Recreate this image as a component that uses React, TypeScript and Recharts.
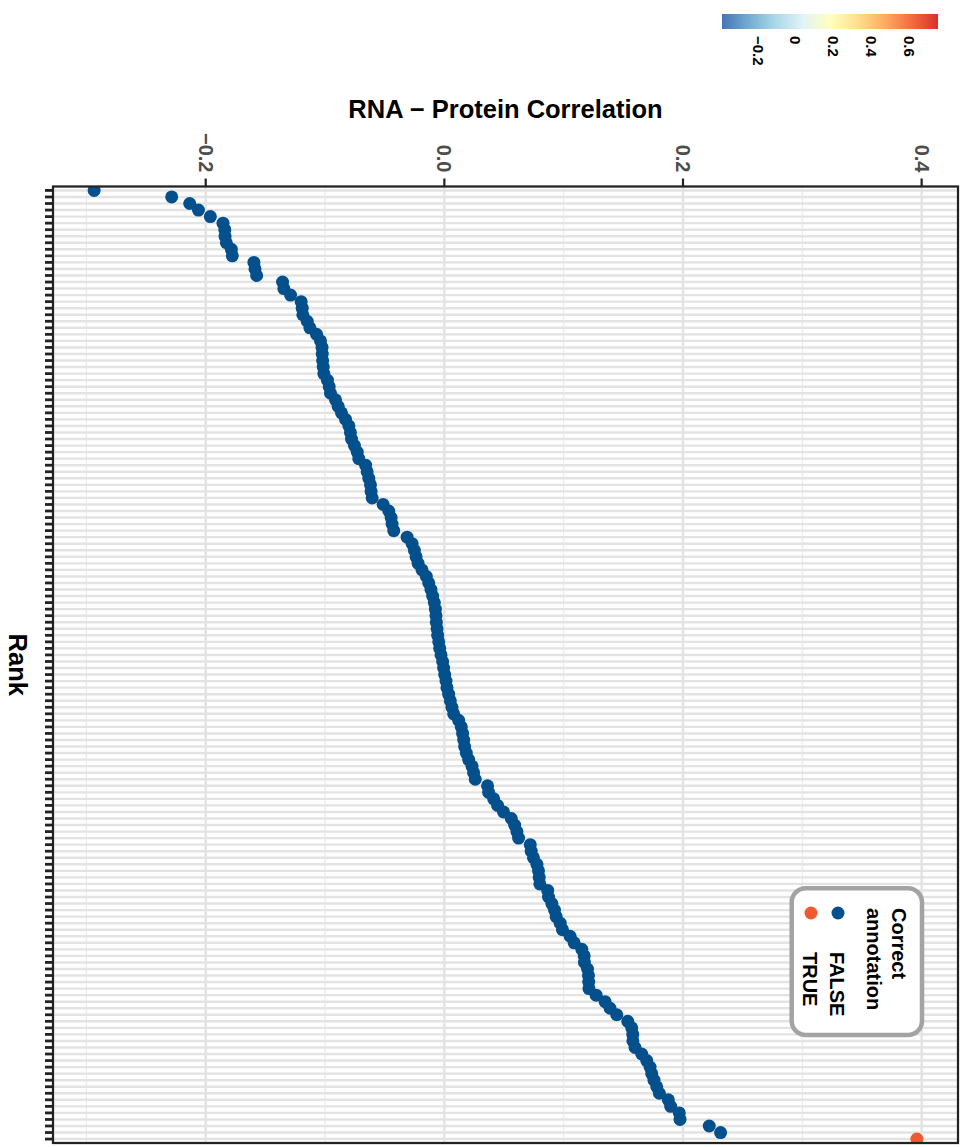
import { ScatterChart, Scatter, XAxis, YAxis, CartesianGrid } from "recharts";

// RNA–protein correlation per feature, sorted by rank (1 = lowest)
const rnaProteinCorr = [
  -0.2935, -0.2285, -0.2134, -0.2061, -0.1961, -0.1855, -0.184, -0.1838, -0.1827, -0.1785,
  -0.1777, -0.1596, -0.1587, -0.1573, -0.1356, -0.1345, -0.1289, -0.12, -0.1191, -0.1186,
  -0.1149, -0.1127, -0.1071, -0.1038, -0.1025, -0.1023, -0.102, -0.1015, -0.101, -0.098,
  -0.0965, -0.0954, -0.0912, -0.089, -0.0862, -0.0828, -0.08, -0.0787, -0.0778, -0.0753,
  -0.073, -0.0717, -0.066, -0.0647, -0.0633, -0.0619, -0.0614, -0.0605, -0.0513, -0.0466,
  -0.0446, -0.0438, -0.0424, -0.0312, -0.027, -0.0251, -0.0237, -0.022, -0.0187, -0.0151,
  -0.0131, -0.0112, -0.0098, -0.0084, -0.0075, -0.007, -0.0067, -0.0061, -0.0056, -0.0047,
  -0.0039, -0.0028, -0.0014, -0.0006, 0.0003, 0.0014, 0.0022, 0.0036, 0.005, 0.0064,
  0.0078, 0.012, 0.0142, 0.0153, 0.0162, 0.017, 0.0184, 0.0204, 0.0232, 0.0245,
  0.0259, 0.0362, 0.0371, 0.0413, 0.0446, 0.0496, 0.0561, 0.0589, 0.0608, 0.0622,
  0.072, 0.0728, 0.0747, 0.0776, 0.0789, 0.0795, 0.08, 0.0866, 0.0873, 0.0901,
  0.0923, 0.0937, 0.0971, 0.099, 0.1054, 0.1088, 0.1152, 0.1172, 0.1174, 0.12,
  0.1208, 0.121, 0.1212, 0.1272, 0.1347, 0.1389, 0.1445, 0.1537, 0.157, 0.1579,
  0.158, 0.1598, 0.1654, 0.1696, 0.1724, 0.1738, 0.1757, 0.178, 0.1802, 0.1877,
  0.1897, 0.1969, 0.1975, 0.222, 0.2315, 0.396,
];
// ranks whose annotation is correct
const correctRanks = [146];

const xMajorTicks = [-0.2, 0, 0.2, 0.4];
const xMinorTicks = [-0.3, -0.1, 0.1, 0.3];

const colorbarTicks = [-0.2, 0, 0.2, 0.4, 0.6];
const colorbarLimits = [-0.39, 0.75];
const colorbarPalette = [
  "#4575B4", "#74ADD1", "#ABD9E9", "#E0F3F8", "#FFFFBF",
  "#FEE090", "#FDAE61", "#F46D43", "#D73027",
];

const legendLevels = ["FALSE", "TRUE"];
const legendColors: Record<string, string> = { FALSE: "#03508C", TRUE: "#EE5A32" };

const FONT = "'Liberation Sans', Arial, Helvetica, sans-serif";
const W = 961;
const H = 1147;
const PLOT = { left: 53, top: 186.5, right: 958, bottom: 1143 };
const DOT_R = 6.5;
const AXIS_INK = "#222222";

const points = rnaProteinCorr.map((corr, i) => ({
  rank: i + 1,
  corr,
  correct: correctRanks.includes(i + 1),
}));
const falsePoints = points.filter((p) => !p.correct);
const truePoints = points.filter((p) => p.correct);
const ranks = points.map((p) => p.rank);

// ggplot-style 5% expansion on the continuous axis, 0.6 on the discrete one
const lo = Math.min(...rnaProteinCorr);
const hi = Math.max(...rnaProteinCorr);
const pad = (hi - lo) * 0.05;
const xDomain: [number, number] = [lo - pad, hi + pad];
const yDomain: [number, number] = [0.4, rnaProteinCorr.length + 0.6];

const fmtAxis = (v: number) => (v < 0 ? "\u2212" : "") + Math.abs(v).toFixed(1);
const fmtBar = (v: number) => (v < 0 ? "\u2212" : "") + String(Math.abs(v));

const NoLabel = () => null;

const TopTick = (props: any) => {
  const { x, y, payload } = props;
  return (
    <text
      x={x}
      y={y}
      transform={`rotate(90, ${x}, ${y})`}
      textAnchor="end"
      dominantBaseline="central"
      fill="#4D4D4D"
      fontSize={20}
      fontWeight="bold"
      fontFamily={FONT}
    >
      {fmtAxis(payload.value)}
    </text>
  );
};

const Dot = (props: any) => (
  <circle cx={props.cx} cy={props.cy} r={DOT_R} fill={props.fill} />
);

function RotText({
  x,
  y,
  size,
  anchor = "start",
  children,
}: {
  x: number;
  y: number;
  size: number;
  anchor?: "start" | "middle" | "end";
  children: React.ReactNode;
}) {
  return (
    <text
      x={x}
      y={y}
      transform={`rotate(90, ${x}, ${y})`}
      textAnchor={anchor}
      dominantBaseline="central"
      fontSize={size}
      fontWeight="bold"
      fontFamily={FONT}
      fill="#000"
    >
      {children}
    </text>
  );
}

function Overlay() {
  const cbX = 722;
  const cbW = 216;
  const cbPos = (v: number) =>
    cbX + ((v - colorbarLimits[0]) / (colorbarLimits[1] - colorbarLimits[0])) * cbW;
  const plotW = PLOT.right - PLOT.left;
  const plotH = PLOT.bottom - PLOT.top;

  return (
    <svg
      width={W}
      height={H}
      style={{ position: "absolute", left: 0, top: 0, pointerEvents: "none" }}
    >
      <defs>
        <linearGradient id="cbar" x1="0" y1="0" x2="1" y2="0">
          {colorbarPalette.map((c, i) => (
            <stop key={c} offset={i / (colorbarPalette.length - 1)} stopColor={c} />
          ))}
        </linearGradient>
      </defs>

      {/* panel border */}
      <rect
        x={PLOT.left}
        y={PLOT.top}
        width={plotW}
        height={plotH}
        fill="none"
        stroke={AXIS_INK}
        strokeWidth={2.2}
      />

      {/* axis titles */}
      <text
        x={PLOT.left + plotW / 2}
        y={109}
        textAnchor="middle"
        dominantBaseline="central"
        fontSize={25.5}
        fontWeight="bold"
        fontFamily={FONT}
        fill="#000"
      >
        RNA − Protein Correlation
      </text>
      <RotText x={18} y={PLOT.top + plotH / 2} size={25.5} anchor="middle">
        Rank
      </RotText>

      {/* colour bar */}
      <rect x={cbX} y={14} width={cbW} height={15} fill="url(#cbar)" />
      {colorbarTicks.map((v) => (
        <RotText key={v} x={cbPos(v)} y={36} size={15}>
          {fmtBar(v)}
        </RotText>
      ))}

      {/* legend */}
      <rect
        x={791.7}
        y={888.3}
        width={130.3}
        height={146.7}
        rx={14}
        fill="#fff"
        stroke="#A3A3A6"
        strokeWidth={4.5}
      />
      <RotText x={899} y={908} size={20}>
        Correct
      </RotText>
      <RotText x={873.5} y={908} size={20}>
        annotation
      </RotText>
      {legendLevels.map((lvl, i) => (
        <g key={lvl}>
          <circle cx={838 - i * 27} cy={913} r={DOT_R} fill={legendColors[lvl]} />
          <RotText x={836.5 - i * 27} y={952} size={20}>
            {lvl}
          </RotText>
        </g>
      ))}
    </svg>
  );
}

export default function App() {
  return (
    <div
      style={{
        position: "absolute",
        left: 0,
        top: 0,
        width: W,
        height: H,
        background: "#fff",
      }}
    >
      <ScatterChart
        width={W}
        height={H}
        margin={{ top: 0, right: W - PLOT.right, bottom: H - PLOT.bottom, left: 0 }}
      >
        <CartesianGrid
          xAxisId="minor"
          horizontal={false}
          stroke="#EBEBEB"
          strokeWidth={1.2}
        />
        <CartesianGrid stroke="#E3E3E3" strokeWidth={2.4} />
        <XAxis
          xAxisId="minor"
          type="number"
          dataKey="corr"
          orientation="top"
          domain={xDomain}
          allowDataOverflow
          ticks={xMinorTicks}
          interval={0}
          height={0}
          tick={NoLabel}
          tickLine={false}
          axisLine={false}
        />
        <XAxis
          type="number"
          dataKey="corr"
          orientation="top"
          domain={xDomain}
          allowDataOverflow
          ticks={xMajorTicks}
          interval={0}
          height={PLOT.top}
          tickSize={8}
          tickMargin={6}
          stroke={AXIS_INK}
          strokeWidth={2.2}
          tick={<TopTick />}
          tickLine={{ stroke: AXIS_INK, strokeWidth: 2.2 }}
          axisLine={false}
        />
        <YAxis
          type="number"
          dataKey="rank"
          reversed
          domain={yDomain}
          allowDataOverflow
          ticks={ranks}
          interval={0}
          width={PLOT.left}
          tickSize={8}
          stroke={AXIS_INK}
          strokeWidth={2.8}
          tick={NoLabel}
          tickLine={{ stroke: AXIS_INK, strokeWidth: 2.8 }}
          axisLine={false}
        />
        <Scatter
          data={falsePoints}
          fill={legendColors.FALSE}
          shape={Dot}
          isAnimationActive={false}
        />
        <Scatter
          data={truePoints}
          fill={legendColors.TRUE}
          shape={Dot}
          isAnimationActive={false}
        />
      </ScatterChart>
      <Overlay />
    </div>
  );
}
